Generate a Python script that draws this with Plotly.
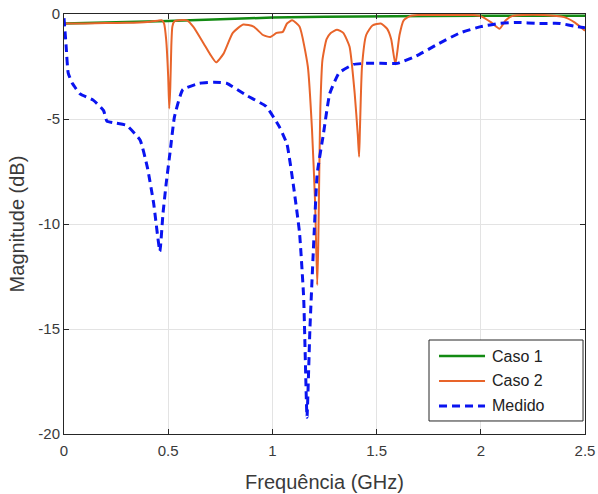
import plotly.graph_objects as go

# Caso 1 (green)
f_caso1 = [0.0, 0.25, 0.5, 0.75, 1.0, 1.25, 1.5, 1.75, 2.0, 2.25, 2.5]
mag_caso1 = [-0.45, -0.4, -0.33, -0.25, -0.17, -0.13, -0.1, -0.09, -0.08, -0.08, -0.08]

# Caso 2 (orange)
f_caso2 = [0.0, 0.1, 0.2, 0.3, 0.4, 0.45, 0.47, 0.48, 0.49, 0.50, 0.505, 0.51, 0.515,
           0.52, 0.53, 0.55, 0.59, 0.62, 0.67, 0.70, 0.73, 0.765, 0.81, 0.86, 0.91,
           0.955, 0.99, 1.02, 1.05, 1.07, 1.095, 1.13, 1.17, 1.19, 1.205, 1.215, 1.22,
           1.225, 1.23, 1.24, 1.26, 1.28, 1.31, 1.34, 1.37, 1.395, 1.41, 1.416, 1.42,
           1.43, 1.45, 1.48, 1.52, 1.55, 1.57, 1.59, 1.61, 1.63, 1.66, 1.7, 1.8, 1.9,
           1.96, 2.0, 2.05, 2.09, 2.12, 2.15, 2.2, 2.3, 2.4, 2.45, 2.5]
mag_caso2 = [-0.45, -0.45, -0.43, -0.42, -0.38, -0.32, -0.3, -0.45, -1.2, -3.0, -4.5, -3.5, -1.5,
             -0.6, -0.35, -0.3, -0.3, -0.6, -1.4, -1.9, -2.3, -1.9, -0.9, -0.5, -0.6,
             -1.0, -1.1, -0.9, -0.85, -0.45, -0.3, -0.6, -2.5, -5.5, -9.0, -12.9, -11.0,
             -7.5, -4.5, -2.2, -1.2, -0.9, -0.75, -0.9, -1.55, -3.8, -5.8, -6.8, -5.5,
             -2.5, -1.0, -0.55, -0.45, -0.7, -1.2, -2.4, -1.0, -0.3, -0.1, -0.05, -0.05, -0.05,
             -0.05, -0.1, -0.4, -0.7, -0.3, -0.1, -0.05, -0.05, -0.15, -0.4, -0.8]

# Medido (blue dashed)
f_medido = [0.0, 0.01, 0.02, 0.04, 0.077, 0.14, 0.19, 0.206, 0.25, 0.30, 0.365, 0.40, 0.43,
            0.46, 0.475, 0.49, 0.51, 0.53, 0.57, 0.65, 0.72, 0.78, 0.88, 0.97, 1.035, 1.07,
            1.10, 1.13, 1.15, 1.166, 1.18, 1.2, 1.215, 1.245, 1.275, 1.32, 1.39, 1.45, 1.52,
            1.6, 1.69, 1.8, 1.9, 2.0, 2.09, 2.17, 2.28, 2.38, 2.46, 2.5]
mag_medido = [-0.2, -1.5, -2.8, -3.3, -3.8, -4.1, -4.6, -5.1, -5.2, -5.3, -6.0, -7.3, -9.0,
              -11.3, -9.5, -8.1, -6.5, -4.9, -3.6, -3.3, -3.25, -3.3, -3.9, -4.4, -5.4, -6.2,
              -8.1, -10.4, -13.5, -19.2, -15.0, -10.5, -7.6, -5.7, -3.8, -2.8, -2.4, -2.35, -2.35,
              -2.35, -2.0, -1.4, -0.9, -0.6, -0.45, -0.4, -0.45, -0.45, -0.6, -0.65]

x_ticks = [0, 0.5, 1, 1.5, 2, 2.5]
x_ticklabels = ["0", "0.5", "1", "1.5", "2", "2.5"]
y_ticks = [-20, -15, -10, -5, 0]
y_ticklabels = ["-20", "-15", "-10", "-5", "0"]

series_names = ["Caso 1", "Caso 2", "Medido"]
series_colors = ["#138a13", "#e8642a", "#0a14f0"]

fig = go.Figure()
fig.add_trace(go.Scatter(x=f_caso1, y=mag_caso1, mode="lines", name=series_names[0],
                         line=dict(color=series_colors[0], width=2.5)))
fig.add_trace(go.Scatter(x=f_caso2, y=mag_caso2, mode="lines", name=series_names[1],
                         line=dict(color=series_colors[1], width=2, shape="spline", smoothing=0.5)))
fig.add_trace(go.Scatter(x=f_medido, y=mag_medido, mode="lines", name=series_names[2],
                         line=dict(color=series_colors[2], width=3, dash="8px,5px",
                                   shape="spline", smoothing=0.4)))

axis_common = dict(
    showline=True, linecolor="#262626", linewidth=1, mirror="ticks",
    ticks="inside", ticklen=5, tickcolor="#262626",
    showgrid=True, gridcolor="#e3e3e3", gridwidth=1,
    zeroline=False, automargin=False,
    tickfont=dict(family="Liberation Sans, Arial", size=15, color="#3a3a3a"),
)

# Legend drawn as a box with line samples and labels (paper coordinates)
shapes = [dict(type="rect", xref="paper", yref="paper", x0=0.7006, x1=0.9962,
               y0=0.031, y1=0.2238, line=dict(color="#262626", width=1),
               fillcolor="white", layer="above")]
annotations = []
legend_rows = [0.1857, 0.1262, 0.0667]
legend_dash = ["solid", "solid", "8px,5px"]
legend_width = [2.5, 2, 3]
for name, col, yy, dsh, w in zip(series_names, series_colors, legend_rows, legend_dash, legend_width):
    shapes.append(dict(type="line", xref="paper", yref="paper", x0=0.7198, x1=0.8081,
                       y0=yy, y1=yy, line=dict(color=col, width=w, dash=dsh), layer="above"))
    annotations.append(dict(xref="paper", yref="paper", x=0.8177, y=yy, text=name,
                            showarrow=False, xanchor="left", yanchor="middle",
                            font=dict(family="Liberation Sans, Arial", size=16, color="#222222")))

fig.update_layout(
    width=598, height=494,
    margin=dict(l=64, r=13, t=14, b=60),
    paper_bgcolor="white", plot_bgcolor="white",
    font=dict(family="Liberation Sans, Arial", color="#3a3a3a"),
    xaxis=dict(range=[0, 2.5], tickvals=x_ticks, ticktext=x_ticklabels,
               ticklabelstandoff=3,
               title=dict(text="Frequência (GHz)", font=dict(size=20), standoff=16),
               **axis_common),
    yaxis=dict(range=[-20, 0], tickvals=y_ticks, ticktext=y_ticklabels,
               title=dict(text="Magnitude (dB)", font=dict(size=20), standoff=8),
               **axis_common),
    shapes=shapes,
    annotations=annotations,
    showlegend=False,
)

fig.write_html("out.html", config={"displayModeBar": False},
               post_script="document.body.style.margin='0';document.body.style.overflow='hidden';")
